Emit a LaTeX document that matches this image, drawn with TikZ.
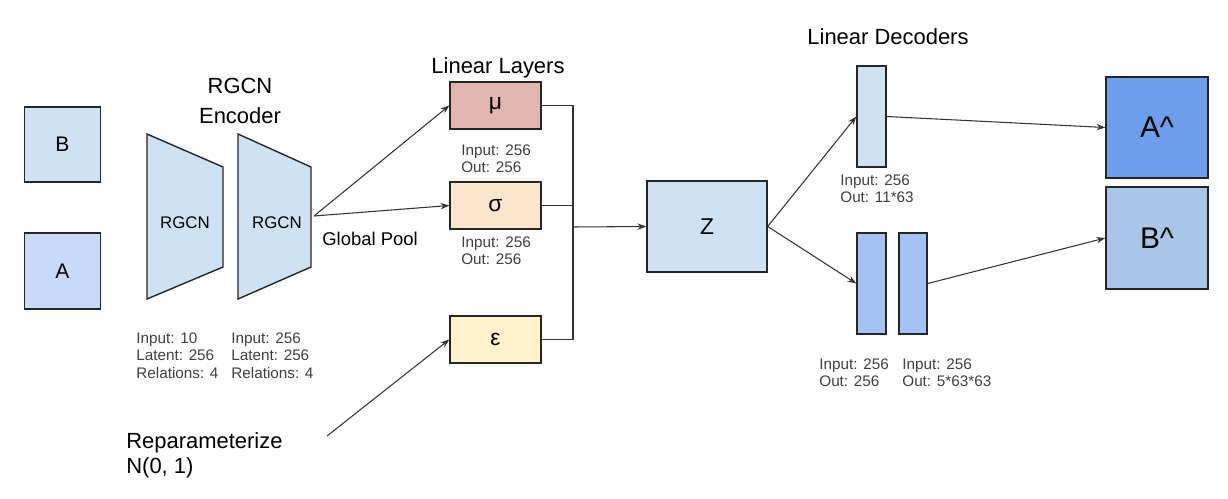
\documentclass[tikz,border=0pt]{standalone}
\usepackage{fontspec}
\setmainfont{Liberation Sans}
\usetikzlibrary{positioning}
\usetikzlibrary{arrows.meta}

\definecolor{bblue}{HTML}{CFE2F3}
\definecolor{ablue}{HTML}{C9DAF8}
\definecolor{murose}{HTML}{E0B6AE}
\definecolor{sigpeach}{HTML}{FCE5CD}
\definecolor{epsyellow}{HTML}{FFF2CC}
\definecolor{decblue}{HTML}{A4C2F4}
\definecolor{ahatblue}{HTML}{6D9EEB}
\definecolor{bhatblue}{HTML}{A9C5E8}

\tikzset{
  box/.style={draw=black!85, line width=0.8pt, inner sep=0pt},
  enc/.style={draw=black!85, line width=0.8pt, fill=bblue},
  spec/.style={anchor=north west, align=left, inner sep=0pt, text=black!75, font=\fontsize{8.7}{10}\selectfont},
  title/.style={inner sep=0pt, font=\fontsize{12.5}{17}\selectfont},
  link/.style={draw=black!80, line width=0.6pt},
  arr/.style={link, -{Stealth[length=5pt,width=3.6pt]}},
}

\begin{document}
\begin{tikzpicture}[x=0.02cm, y=-0.02cm]
\useasboundingbox (0,0) rectangle (1228,498);

% inputs
\node[box, fill=bblue, minimum width=1.52cm, minimum height=1.5cm, font=\fontsize{12}{14}\selectfont] (b) at (62.5,144.5) {B};
\node[box, fill=ablue, minimum width=1.52cm, minimum height=1.52cm, font=\fontsize{12}{14}\selectfont] (a) at (62.5,271) {A};

% encoder
\coordinate (enc1) at (147,134);
\draw[enc] (enc1) -- ([shift={(76,33)}]enc1) -- ([shift={(76,133)}]enc1) -- ([shift={(0,165)}]enc1) -- cycle;
\node[inner sep=0pt, font=\fontsize{9.6}{11}\selectfont] (rgcn1) at ([shift={(38,89)}]enc1) {RGCN};

\coordinate (enc2) at (238,134);
\draw[enc] (enc2) -- ([shift={(73,33)}]enc2) -- ([shift={(73,133)}]enc2) -- ([shift={(0,165)}]enc2) -- cycle;
\node[inner sep=0pt, font=\fontsize{9.6}{11}\selectfont] (rgcn2) at ([shift={(39,89)}]enc2) {RGCN};

\node[title, anchor=north, align=center] (enctitle) at (240,78) {RGCN\\Encoder};
\node[spec] (enc1spec) at (136,332) {Input: 10\\Latent: 256\\Relations: 4};
\node[spec] (enc2spec) at (231,332) {Input: 256\\Latent: 256\\Relations: 4};

\coordinate (pool) at (314,216);
\node[anchor=north west, inner sep=0pt, font=\fontsize{10.5}{12}\selectfont] (pooltext) at (322,232) {Global Pool};

% linear layers
\node[title, anchor=north] (lintitle) at (498,57) {Linear Layers};
\node[box, fill=murose, minimum width=1.82cm, minimum height=0.94cm, font=\fontsize{13}{15}\selectfont] (mu) at (495.5,105.5) {μ};
\node[box, fill=sigpeach, minimum width=1.82cm, minimum height=0.94cm, font=\fontsize{13}{15}\selectfont] (sig) at (495.5,205.5) {σ};
\node[box, fill=epsyellow, minimum width=1.82cm, minimum height=0.94cm, font=\fontsize{13}{15}\selectfont] (eps) at (495.5,339.5) {ε};
\node[spec] (muspec) at (461,144) {Input: 256\\Out: 256};
\node[spec] (sigspec) at (461,236) {Input: 256\\Out: 256};

\coordinate (rep) at (327,436);
\node[anchor=north west, align=left, inner sep=0pt, font=\fontsize{12.5}{14.2}\selectfont] (reptext) at (126,432) {Reparameterize\\N(0, 1)};

\draw[arr] (pool) -- (mu.west);
\draw[arr] (pool) -- (sig.west);
\draw[arr] (rep) -- (eps.west);

% latent
\node[box, fill=bblue, minimum width=2.4cm, minimum height=1.82cm, font=\fontsize{13}{15}\selectfont] (z) at (707,226.5) {Z};
\coordinate (bus) at (573,227);
\draw[link] (mu.east) -| (bus);
\draw[link] (sig.east) -| (bus);
\draw[link] (eps.east) -| (bus);
\draw[arr] (bus) -- (z.west);

% decoders
\node[title, anchor=north] (dectitle) at (888,28) {Linear Decoders};
\node[box, fill=bblue, minimum width=0.58cm, minimum height=2.02cm] (dec1) at (871.5,116.5) {};
\node[box, fill=decblue, minimum width=0.58cm, minimum height=2.02cm] (dec2) at (871.5,283.5) {};
\node[box, fill=decblue, minimum width=0.56cm, minimum height=2.02cm] (dec3) at (913,283.5) {};
\node[spec] (dec1spec) at (840,174) {Input: 256\\Out: 11*63};
\node[spec] (dec2spec) at (819,358) {Input: 256\\Out: 256};
\node[spec] (dec3spec) at (902,358) {Input: 256\\Out: 5*63*63};

\draw[arr] (z.east) -- (dec1.west);
\draw[arr] (z.east) -- (dec2.west);

% outputs
\node[box, fill=ahatblue, minimum width=2.04cm, minimum height=2.02cm, font=\fontsize{17}{19}\selectfont] (ahat) at (1157,127.5) {A\^{}};
\node[box, fill=bhatblue, minimum width=2.04cm, minimum height=2.04cm, font=\fontsize{17}{19}\selectfont] (bhat) at (1157,238) {B\^{}};

\draw[arr] (dec1.east) -- (ahat.west);
\draw[arr] (dec3.east) -- (bhat.west);
\end{tikzpicture}
\end{document}
